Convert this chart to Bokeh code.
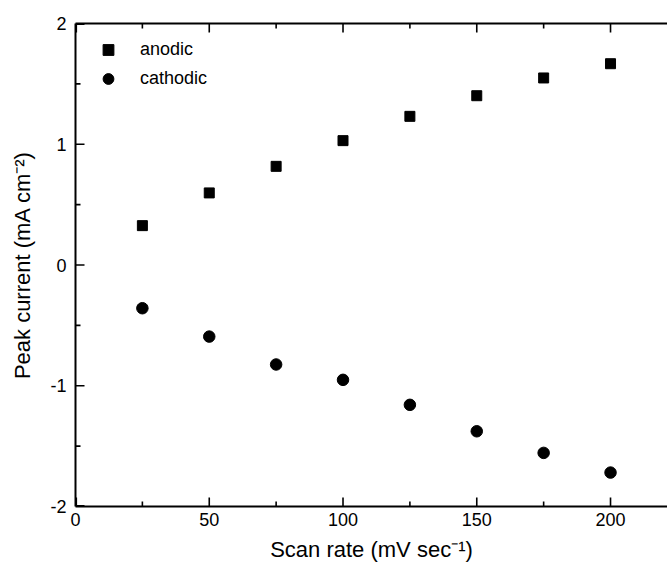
from bokeh.plotting import figure
from bokeh.models import FixedTicker, LinearAxis, Range1d, Legend, LegendItem, ColumnDataSource
from bokeh.embed import file_html
from bokeh.resources import INLINE

scan_rate = [25, 50, 75, 100, 125, 150, 175, 200]
anodic = [0.326, 0.597, 0.817, 1.030, 1.231, 1.402, 1.549, 1.667]
cathodic = [-0.358, -0.593, -0.824, -0.951, -1.158, -1.377, -1.556, -1.719]

x_major = [0, 50, 100, 150, 200]
x_minor = [25, 75, 125, 175]
y_major = [-2, -1, 0, 1, 2]
y_minor = [-1.5, -0.5, 0.5, 1.5]
y_labels = {-2: "-2", -1: "-1", 0: "0", 1: "1", 2: "2"}

X_MIN, X_MAX = 0, 221.3
Y_MIN, Y_MAX = -2, 2

W, H = 667, 569
BL, BR, BT, BB = 75, 0, 23, 63
FONT = "Liberation Sans"

p = figure(width=W, height=H, output_backend="svg", toolbar_location=None,
           x_range=Range1d(X_MIN, X_MAX), y_range=Range1d(Y_MIN, Y_MAX),
           min_border_left=BL, min_border_right=BR, min_border_top=BT, min_border_bottom=BB)
p.grid.visible = False
p.outline_line_color = None
p.background_fill_color = "white"
p.border_fill_color = "white"

src_a = ColumnDataSource(dict(x=scan_rate, y=anodic))
src_c = ColumnDataSource(dict(x=scan_rate, y=cathodic))
ra = p.scatter("x", "y", source=src_a, marker="square", size=10, color="black")
rc = p.scatter("x", "y", source=src_c, marker="circle", size=11.5, color="black")

# tick marks: scatter "dash" markers in a ColumnDataSource (same glyph type as the data)
px_x = (W - BL - BR) / (X_MAX - X_MIN)
px_y = (H - BT - BB) / (Y_MAX - Y_MIN)
MAJ, MIN_ = 9, 5
tx, ty, ts, ta = [], [], [], []
for tick_list, ln in ((x_major, MAJ), (x_minor, MIN_)):
    off = (ln / 2) / px_y
    for v in tick_list:
        v = max(v, X_MIN + 0.8 / px_x)
        for yv in (Y_MIN + off, Y_MAX - off):
            tx.append(v); ty.append(yv); ts.append(ln); ta.append(1.5707963)
for tick_list, ln in ((y_major, MAJ), (y_minor, MIN_)):
    off = (ln / 2) / px_x
    for v in tick_list:
        v = min(max(v, Y_MIN + 0.8 / px_y), Y_MAX - 0.8 / px_y)
        tx.append(X_MIN + off); ty.append(v); ts.append(ln); ta.append(0.0)
tick_src = ColumnDataSource(dict(x=tx, y=ty, s=ts, a=ta))
p.scatter("x", "y", source=tick_src, marker="dash", size="s", angle="a",
          line_color="black", line_width=1.6, fill_color="black")

def style(ax, tks, labels=True):
    ax.ticker = FixedTicker(ticks=tks)
    ax.axis_line_width = 2
    ax.axis_line_color = "black"
    ax.major_tick_in = 0
    ax.major_tick_out = 0
    ax.minor_tick_line_color = None
    ax.major_tick_line_color = None
    ax.major_label_text_font = FONT
    ax.major_label_text_font_size = "18px"
    ax.major_label_text_color = "black"
    ax.axis_label_text_font = FONT
    ax.axis_label_text_font_size = "22px"
    ax.axis_label_text_font_style = "normal"
    ax.axis_label_text_color = "black"
    if not labels:
        ax.major_label_text_font_size = "0px"
        ax.major_label_text_color = None

xa = p.xaxis[0]
style(xa, x_major)
xa.axis_label = "Scan rate (mV sec\u207b\u00b9)"
xa.major_label_standoff = 6
xa.axis_label_standoff = 8

ya = p.yaxis[0]
style(ya, y_major)
ya.axis_label = "Peak current (mA cm\u207b\u00b2)"
ya.major_label_overrides = y_labels
ya.major_label_standoff = 9
ya.axis_label_standoff = 12
ya.major_label_orientation = "horizontal"

top = LinearAxis()
style(top, x_major, labels=False)
p.add_layout(top, "above")

legend = Legend(items=[LegendItem(label="anodic", renderers=[ra]),
                       LegendItem(label="cathodic", renderers=[rc])],
                location="top_left")
legend.border_line_color = None
legend.background_fill_color = None
legend.background_fill_alpha = 0
legend.label_text_font = FONT
legend.label_text_font_size = "18px"
legend.label_text_color = "black"
legend.margin = 13
legend.padding = 0
legend.glyph_width = 40
legend.glyph_height = 27
legend.label_height = 27
legend.spacing = 2
legend.label_standoff = 12
p.add_layout(legend)

open("out.html", "w").write(file_html(p, INLINE))
